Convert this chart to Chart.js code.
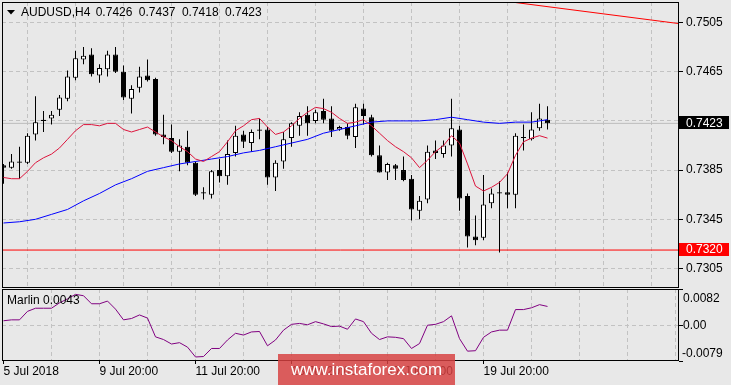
<!DOCTYPE html>
<html lang="en">
<head>
  <meta charset="UTF-8">
  <title>AUDUSD H4</title>
  <script src="https://cdn.jsdelivr.net/npm/chart.js@4/dist/chart.umd.min.js"></script>
  <style>
    body { margin: 0; background: #e8e8e8; width: 731px; height: 385px; overflow: hidden; position: relative; font-family: 'Liberation Sans', Arial, sans-serif; }
    #main { position: absolute; left: 0; top: 0; }
    #sub { position: absolute; left: 0; top: 288px; }
    .watermark { position: absolute; left: 278px; top: 354px; width: 177px; height: 31px; background: rgba(214, 64, 64, 0.84); color: #fff; font-size: 17px; line-height: 31px; text-align: center; }
  </style>
</head>
<body>
<canvas id="main" width="731" height="288"></canvas>
<canvas id="sub" width="731" height="97"></canvas>
<div class="watermark">www.instaforex.com</div>
<script>
  // H4 bars, index 0 = 5 Jul 20:00
  const opens = [
    0.7389, 0.7387, 0.7392, 0.7391, 0.7414, 0.7426, 0.7427, 0.7434, 0.7443, 0.7460,
    0.7475, 0.7479, 0.7462, 0.7467, 0.7479, 0.7465, 0.7443, 0.7452, 0.7462, 0.7459,
    0.7414, 0.7411, 0.7400, 0.7404, 0.7391, 0.7367, 0.7365, 0.7385, 0.7380, 0.7399,
    0.7414, 0.7407, 0.7418, 0.7418, 0.7379, 0.7392, 0.7411, 0.7421, 0.7430, 0.7425,
    0.7433, 0.7427, 0.7418, 0.7420, 0.7412, 0.7435, 0.7428, 0.7397, 0.7383, 0.7389,
    0.7385, 0.7378, 0.7352, 0.7361, 0.7401, 0.7398, 0.7405, 0.7418, 0.7364, 0.7331,
    0.7330, 0.7358, 0.7367, 0.7367, 0.7365, 0.7412, 0.7410, 0.7419, 0.7426];
  const highs = [
    0.7390, 0.7398, 0.7404, 0.7415, 0.7445, 0.7433, 0.7433, 0.7446, 0.7466, 0.7482,
    0.7485, 0.7484, 0.7471, 0.7482, 0.7485, 0.7470, 0.7454, 0.7469, 0.7475, 0.7460,
    0.7430, 0.7422, 0.7410, 0.7417, 0.7392, 0.7371, 0.7385, 0.7394, 0.7409, 0.7421,
    0.7417, 0.7418, 0.7427, 0.7420, 0.7393, 0.7416, 0.7424, 0.7432, 0.7437, 0.7434,
    0.7443, 0.7437, 0.7421, 0.7423, 0.7439, 0.7439, 0.7430, 0.7405, 0.7391, 0.7390,
    0.7396, 0.7381, 0.7364, 0.7405, 0.7409, 0.7409, 0.7443, 0.7421, 0.7366, 0.7348,
    0.7381, 0.7370, 0.7376, 0.7383, 0.7415, 0.7422, 0.7432, 0.7439, 0.7437];
  const lows = [
    0.7374, 0.7386, 0.7378, 0.7390, 0.7409, 0.7416, 0.7422, 0.7429, 0.7441, 0.7458,
    0.7471, 0.7461, 0.7456, 0.7461, 0.7464, 0.7442, 0.7431, 0.7448, 0.7457, 0.7413,
    0.7406, 0.7399, 0.7384, 0.7389, 0.7364, 0.7361, 0.7362, 0.7375, 0.7373, 0.7396,
    0.7403, 0.7400, 0.7410, 0.7373, 0.7368, 0.7386, 0.7404, 0.7413, 0.7413, 0.7423,
    0.7423, 0.7412, 0.7417, 0.7410, 0.7403, 0.7422, 0.7396, 0.7383, 0.7377, 0.7377,
    0.7376, 0.7344, 0.7345, 0.7358, 0.7394, 0.7395, 0.7396, 0.7352, 0.7322, 0.7324,
    0.7328, 0.7354, 0.7318, 0.7354, 0.7354, 0.7401, 0.7409, 0.7417, 0.7418];
  const closes = [
    0.7387, 0.7392, 0.7391, 0.7413, 0.7424, 0.7425, 0.7430, 0.7444, 0.7461, 0.7476,
    0.7478, 0.7463, 0.7468, 0.7479, 0.7465, 0.7444, 0.7451, 0.7461, 0.7458, 0.7414,
    0.7412, 0.7400, 0.7405, 0.7391, 0.7365, 0.7366, 0.7384, 0.7380, 0.7398, 0.7413,
    0.7408, 0.7416, 0.7417, 0.7379, 0.7391, 0.7410, 0.7423, 0.7429, 0.7423, 0.7432,
    0.7426, 0.7417, 0.7420, 0.7413, 0.7436, 0.7429, 0.7397, 0.7383, 0.7390, 0.7386,
    0.7377, 0.7353, 0.7360, 0.7400, 0.7399, 0.7405, 0.7419, 0.7362, 0.7331, 0.7328,
    0.7357, 0.7366, 0.7366, 0.7365, 0.7413, 0.7411, 0.7418, 0.7427, 0.7423];

  // fast MA (red), one value per bar
  const fastMa = [
    0.7379, 0.7378, 0.7378, 0.7384, 0.7391, 0.7395, 0.7398, 0.7403, 0.7410, 0.7417,
    0.7422, 0.7422, 0.7421, 0.7423, 0.7423, 0.7418, 0.7416, 0.7418, 0.7420, 0.7416,
    0.7412, 0.7409, 0.7404, 0.7400, 0.7394, 0.7392, 0.7396, 0.7400, 0.7408, 0.7417,
    0.7421, 0.7426, 0.7427, 0.7420, 0.7414, 0.7416, 0.7421, 0.7427, 0.7432, 0.7436,
    0.7435, 0.7432, 0.7427, 0.7423, 0.7424, 0.7426, 0.7421, 0.7415, 0.7409, 0.7404,
    0.7400, 0.7395, 0.7387, 0.7393, 0.7400, 0.7405, 0.7413, 0.7407, 0.7390, 0.7372,
    0.7368, 0.7371, 0.7375, 0.7382, 0.7397, 0.7408, 0.7411, 0.7413, 0.7411];

  // slow MA (blue), read every second bar
  const slowMaBars = [0, 2, 4, 6, 8, 10, 12, 14, 16, 18, 20, 22, 24, 26, 28, 30, 32, 34,
    36, 38, 40, 42, 44, 46, 48, 50, 52, 54, 56, 58, 60, 62, 64, 66, 68];
  const slowMa = [0.7342, 0.7343, 0.7345, 0.7349, 0.7353, 0.7360, 0.7366, 0.7373, 0.7378,
    0.7384, 0.7387, 0.7390, 0.7392, 0.7394, 0.7396, 0.7399, 0.7401, 0.7404, 0.7407,
    0.7410, 0.7415, 0.7418, 0.7421, 0.7424, 0.7425, 0.7425, 0.7425, 0.7426, 0.7428,
    0.7426, 0.7424, 0.7423, 0.7424, 0.7424, 0.7426];

  const marlin = [
    0.0011, 0.0013, 0.0013, 0.0032, 0.0039, 0.0039, 0.0039, 0.0051, 0.0060, 0.0070,
    0.0067, 0.0049, 0.0049, 0.0055, 0.0037, 0.0013, 0.0016, 0.0024, 0.0017, -0.0025,
    -0.0031, -0.0041, -0.0038, -0.0048, -0.0070, -0.0069, -0.0051, -0.0051, -0.0032, -0.0017,
    -0.0021, -0.0014, -0.0013, -0.0045, -0.0032, -0.0010, 0.0003, 0.0005, 0.0002, 0.0009,
    0.0004, -0.0002, -0.0001, -0.0008, 0.0015, 0.0009, -0.0017, -0.0031, -0.0025, -0.0026,
    -0.0029, -0.0051, -0.0040, 0.0001, 0.0003, 0.0009, 0.0022, -0.0029, -0.0057, -0.0056,
    -0.0026, -0.0014, -0.0010, -0.0010, 0.0036, 0.0036, 0.0040, 0.0047, 0.0043];

  const trendBars = [60, 84.44];
  const trendPrices = [0.75246, 0.75041];
  const bidPrice = 0.7423;
  const levelPrice = 0.7320;

  const priceTicks = [0.7505, 0.7465, 0.7425, 0.7385, 0.7345, 0.7305];
  const marlinTicks = [0.0082, 0, -0.0079];
  const marlinTickText = ['0.0082', '0.00', '-0.0079'];
  const timeTickBars = [0, 12, 24, 36, 48, 60];
  const timeTickText = ['5 Jul 2018', '9 Jul 20:00', '11 Jul 20:00', '13 Jul 20:00', '17 Jul 20:00', '19 Jul 20:00'];
  const header = ['AUDUSD,H4', '0.7426', '0.7437', '0.7418', '0.7423'];

  const FONT = "'Liberation Sans', Arial, sans-serif";
  Chart.defaults.font.family = FONT;
  Chart.defaults.font.size = 12;
  Chart.defaults.color = '#000';

  const X_MIN = -0.1875, X_MAX = 84.4375;
  const GRID = '#c2c2c2';

  function gridEvery6(scale) {
    scale.ticks = [];
    for (let v = 0; v <= 84; v += 6) scale.ticks.push({ value: v });
  }

  function frame(ctx, a) {
    ctx.strokeStyle = '#000';
    ctx.lineWidth = 1;
    ctx.strokeRect(a.left + 0.5, a.top + 0.5, a.right - a.left - 1, a.bottom - a.top - 1);
  }

  function priceBox(ctx, py, value, bg) {
    ctx.fillStyle = bg;
    ctx.fillRect(679, Math.round(py) - 7, 50, 13);
    ctx.fillStyle = '#fff';
    ctx.fillText(value.toFixed(4), 686, py);
  }

  const mainDecor = {
    id: 'mainDecor',
    afterDraw(chart) {
      const { ctx, chartArea: a, scales: { y } } = chart;
      ctx.save();
      frame(ctx, a);
      ctx.fillStyle = '#000';
      ctx.beginPath();
      ctx.moveTo(7, 10); ctx.lineTo(15, 10); ctx.lineTo(11, 14.5);
      ctx.closePath();
      ctx.fill();
      ctx.font = '12px ' + FONT;
      ctx.textBaseline = 'middle';
      ctx.fillText(header[0], 21, 12.5);
      header.slice(1).forEach((t, i) => ctx.fillText(t, 95.7 + 43.1 * i, 12.5));
      priceBox(ctx, y.getPixelForValue(bidPrice), bidPrice, '#000');
      priceBox(ctx, y.getPixelForValue(levelPrice), levelPrice, '#ff0000');
      ctx.restore();
    }
  };

  const subDecor = {
    id: 'subDecor',
    afterDraw(chart) {
      const { ctx, chartArea: a, scales: { y } } = chart;
      ctx.save();
      frame(ctx, a);
      ctx.fillStyle = '#000';
      ctx.font = '12px ' + FONT;
      ctx.textBaseline = 'middle';
      ctx.fillText('Marlin ' + marlin[marlin.length - 1].toFixed(4), 7, 12.5);
      // MT4 keeps the max/min labels inside the window
      ctx.fillText(marlinTickText[0], 683, a.top + 9.3);
      ctx.fillText(marlinTickText[1], 683, y.getPixelForValue(marlinTicks[1]) + 0.5);
      ctx.fillText(marlinTickText[2], 682, a.bottom - 7);
      ctx.restore();
    }
  };

  const wickData = highs.map((h, i) => ({ x: i, y: [lows[i], h] }));
  const bodyData = opens.map((o, i) => ({ x: i, y: [o, closes[i]] }));
  const bodyFill = opens.map((o, i) => closes[i] >= o ? '#ffffff' : '#000000');
  const hLine = v => [{ x: X_MIN, y: v }, { x: X_MAX, y: v }];
  const lineStyle = (color, order) => ({ type: 'line', borderColor: color, borderWidth: 1, pointRadius: 0, fill: false, order: order });

  new Chart(document.getElementById('main'), {
    type: 'bar',
    data: {
      datasets: [
        Object.assign(lineStyle('#bcbcbc', 6), { data: hLine(bidPrice) }),
        Object.assign(lineStyle('#ff0000', 6), { data: hLine(levelPrice) }),
        { data: wickData, backgroundColor: '#000', barThickness: 1, grouped: false, inflateAmount: 0, order: 4 },
        { data: bodyData, backgroundColor: bodyFill, borderColor: '#000', borderWidth: 1, borderSkipped: false,
          barThickness: 5, grouped: false, inflateAmount: 0, order: 3 },
        Object.assign(lineStyle('#0000ff', 2), { data: slowMaBars.map((b, i) => ({ x: b, y: slowMa[i] })) }),
        Object.assign(lineStyle('#dc143c', 1), { data: fastMa.map((v, i) => ({ x: i, y: v })) }),
        Object.assign(lineStyle('#ff0000', 0), { data: trendBars.map((b, i) => ({ x: b, y: trendPrices[i] })) })
      ]
    },
    options: {
      responsive: false,
      devicePixelRatio: 1,
      animation: false,
      events: [],
      layout: { padding: { left: 2, top: 2, right: 0, bottom: 0 } },
      plugins: { legend: { display: false }, tooltip: { enabled: false } },
      scales: {
        x: {
          type: 'linear', min: X_MIN, max: X_MAX, offset: false,
          afterBuildTicks: s => { gridEvery6(s); s.ticks.shift(); },
          afterFit: s => { s.height = 0; s.paddingLeft = 0; s.paddingRight = 0; },
          grid: { color: GRID, drawTicks: false },
          border: { display: false, dash: [4, 3] },
          ticks: { display: false }
        },
        y: {
          type: 'linear', position: 'right',
          min: 0.7505 - 265.5 / 12300, max: 0.7505 + 20.5 / 12300,
          afterBuildTicks: s => { s.ticks = priceTicks.map(v => ({ value: v })); },
          afterFit: s => { s.width = 52; s.paddingTop = 0; s.paddingBottom = 0; },
          grid: { color: GRID, tickColor: '#000', tickLength: 4, tickBorderDash: [] },
          border: { display: false, dash: [4, 3] },
          ticks: { padding: 3, callback: v => Math.abs(v - 0.7425) < 1e-6 ? '' : v.toFixed(4) }
        }
      }
    },
    plugins: [mainDecor]
  });

  new Chart(document.getElementById('sub'), {
    type: 'line',
    data: {
      datasets: [
        Object.assign(lineStyle('#800080', 0), { data: marlin.map((v, i) => ({ x: i, y: v })) })
      ]
    },
    options: {
      responsive: false,
      devicePixelRatio: 1,
      animation: false,
      events: [],
      layout: { padding: { left: 2, top: 1, right: 0, bottom: 0 } },
      plugins: { legend: { display: false }, tooltip: { enabled: false } },
      scales: {
        x: {
          type: 'linear', min: X_MIN, max: X_MAX, offset: false,
          afterBuildTicks: gridEvery6,
          afterFit: s => { s.height = 24; s.paddingLeft = 0; s.paddingRight = 0; },
          grid: {
            color: c => c.tick && c.tick.value === 0 ? 'rgba(0,0,0,0)' : GRID,
            tickColor: c => c.tick && timeTickBars.includes(c.tick.value) ? '#000' : 'rgba(0,0,0,0)',
            tickLength: 3, tickBorderDash: []
          },
          border: { display: false, dash: [4, 3] },
          ticks: {
            align: 'start', padding: 0, autoSkip: false, maxRotation: 0,
            callback: v => { const i = timeTickBars.indexOf(v); return i >= 0 ? timeTickText[i] : ''; }
          }
        },
        y: {
          type: 'linear', position: 'right', min: -0.0079, max: 0.0082,
          afterBuildTicks: s => { s.ticks = marlinTicks.map(v => ({ value: v })); },
          afterFit: s => { s.width = 52; s.paddingTop = 0; s.paddingBottom = 0; },
          grid: {
            color: c => c.tick && c.tick.value === 0 ? GRID : 'rgba(0,0,0,0)',
            tickColor: '#000', tickLength: 4, tickBorderDash: []
          },
          border: { display: false, dash: [4, 3] },
          ticks: { display: false }
        }
      }
    },
    plugins: [subDecor]
  });
</script>
</body>
</html>
